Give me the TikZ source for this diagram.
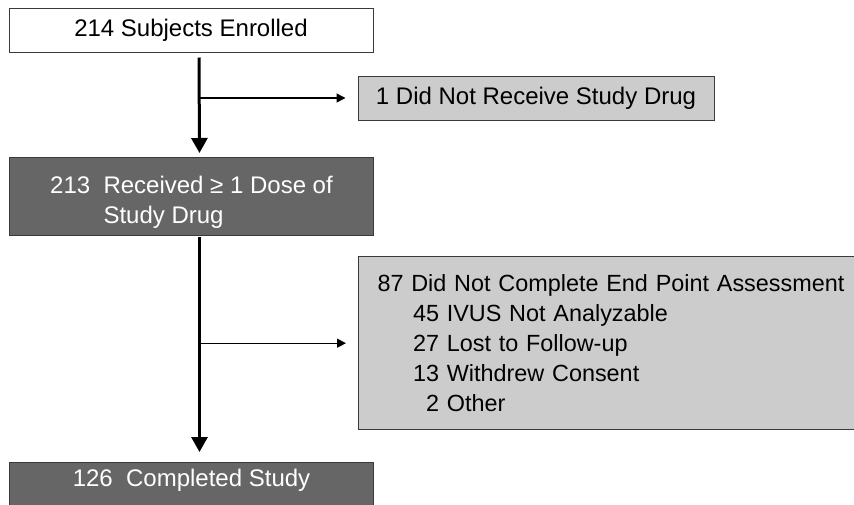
\documentclass[tikz,border=0pt]{standalone}
\usepackage{fontspec}
\setmainfont{Liberation Sans}
\usetikzlibrary{arrows.meta}
\definecolor{darkbox}{HTML}{666666}
\definecolor{lightbox}{HTML}{CCCCCC}
\definecolor{edge}{HTML}{3A3A3A}
\begin{document}
\begin{tikzpicture}[x=1pt,y=-1pt,
  box/.style={draw=edge, line width=1pt, rectangle, font=\fontsize{24}{30}\selectfont},
  whitebox/.style={box, fill=white, text=black},
  darkbx/.style={box, fill=darkbox, text=white},
  lightbx/.style={box, fill=lightbox, text=black},
  mainarrow/.style={line width=3pt, -{Triangle[width=16pt,length=15pt]}},
  sidearrow/.style={line width=1.3pt, -{Triangle[width=9pt,length=9pt]}}
]
\useasboundingbox (0,0) rectangle (854,504);
\clip (0,0) rectangle (854,504);

\node[whitebox, minimum width=364pt, minimum height=44pt, inner sep=0pt] (b1) at (191,30) {214 Subjects Enrolled};

\node[lightbx, minimum width=356pt, minimum height=44pt, inner sep=0pt] (nd) at (536,98) {1 Did Not Receive Study Drug};

\node[darkbx, anchor=north west, minimum width=364pt, minimum height=78pt, align=left, inner sep=0pt, text height=54pt, text depth=0pt] (b2) at (9,157)
  {213~~Received ≥ 1 Dose of\\\hspace*{53.4pt}Study Drug};

\node[lightbx, font=\fontsize{23.4}{29.8}\selectfont, anchor=north west, text width=480pt, align=left, inner xsep=19pt, inner ysep=18.5pt] (b3) at (358,256)
  {87 Did Not Complete End Point Assessment\\
   \hspace*{35.5pt}45 IVUS Not Analyzable\\
   \hspace*{35.5pt}27 Lost to Follow-up\\
   \hspace*{35.5pt}13 Withdrew Consent\\
   \hspace*{48.5pt}2 Other};

\node[darkbx, anchor=north west, minimum width=364pt, inner xsep=0pt, inner ysep=7pt, text depth=25pt] (b4) at (9,462) {126~~Completed Study};

\draw[mainarrow, shorten <=5pt, shorten >=4pt] ([xshift=8pt]b1.south) -- ([xshift=8pt]b2.north);
\draw[sidearrow, shorten >=12pt] ([xshift=8pt]b1.south |- nd.west) -- (nd.west);
\draw[mainarrow, shorten <=1pt, shorten >=10pt] ([xshift=8pt]b2.south) -- ([xshift=8pt]b4.north);
\draw[sidearrow, shorten >=12pt] ([xshift=8pt]b2.south |- b3.west) -- (b3.west);
\end{tikzpicture}
\end{document}
